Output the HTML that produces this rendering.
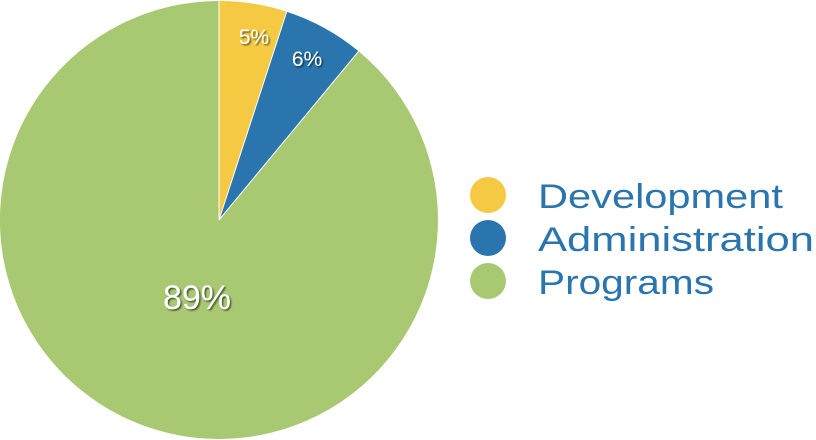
<!DOCTYPE html>
<html><head><meta charset="utf-8"><style>
html,body{margin:0;padding:0;background:#fff;}
svg{display:block;}
</style></head><body>
<svg width="816" height="440" viewBox="0 0 816 440" xmlns="http://www.w3.org/2000/svg">
<defs>
<filter id="sh" x="-20%" y="-20%" width="140%" height="140%">
<feDropShadow dx="1.5" dy="1.5" stdDeviation="0.8" flood-color="#000" flood-opacity="0.55"/>
</filter>
</defs>
<path d="M219,220 L219,1 A219,219 0 0 1 286.7,11.7 Z" fill="#f5c942"/>
<path d="M219,220 L286.7,11.7 A219,219 0 0 1 358.6,51.3 Z" fill="#2a75ad"/>
<path d="M219,220 L358.6,51.3 A219,219 0 1 1 219,1 Z" fill="#a8c872"/>
<line x1="219" y1="220" x2="219" y2="1" stroke="#fff" stroke-width="1"/>
<line x1="219" y1="220" x2="286.7" y2="11.7" stroke="#fff" stroke-width="1"/>
<line x1="219" y1="220" x2="358.6" y2="51.3" stroke="#fff" stroke-width="1"/>
<g font-family="Liberation Sans, sans-serif" fill="#fff" filter="url(#sh)">
<text x="254" y="44" font-size="21" text-anchor="middle">5%</text>
<text x="307" y="66" font-size="21" text-anchor="middle">6%</text>
<text x="197" y="309" font-size="34" text-anchor="middle">89%</text>
</g>
<circle cx="488" cy="195" r="18" fill="#f5c942"/>
<circle cx="488" cy="238" r="18" fill="#2a75ad"/>
<circle cx="488" cy="281" r="18" fill="#a8c872"/>
<g font-family="Liberation Sans, sans-serif" font-size="34" fill="#2a75ad">
<text x="538" y="208" textLength="245" lengthAdjust="spacingAndGlyphs">Development</text>
<text x="538" y="251" textLength="276" lengthAdjust="spacingAndGlyphs">Administration</text>
<text x="538" y="294" textLength="176" lengthAdjust="spacingAndGlyphs">Programs</text>
</g>
</svg>
</body></html>
